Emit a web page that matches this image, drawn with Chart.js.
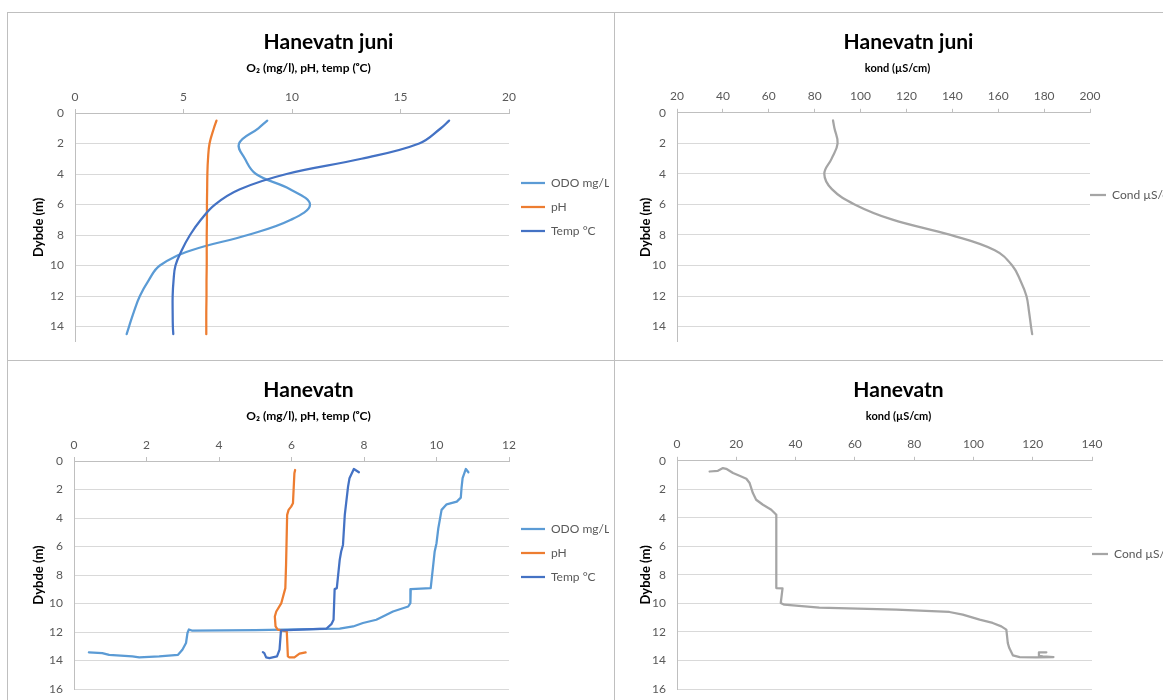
<!DOCTYPE html>
<html lang="no">
<head>
<meta charset="utf-8">
<title>Hanevatn profiler</title>
<script src="https://cdn.jsdelivr.net/npm/chart.js@4.4.1/dist/chart.umd.min.js"></script>
<style>
  html,body{margin:0;padding:0;background:#fff;}
  #stage{position:relative;width:1163px;height:700px;overflow:hidden;background:#fff;}
  .panel{position:absolute;border:1px solid #bfbfbf;box-sizing:border-box;}
  canvas{position:absolute;}
</style>
</head>
<body>
<div id="stage">
  <div class="panel" style="left:7px;top:12px;width:608px;height:349px"></div>
  <div class="panel" style="left:614px;top:12px;width:620px;height:349px"></div>
  <div class="panel" style="left:7px;top:360px;width:608px;height:360px"></div>
  <div class="panel" style="left:614px;top:360px;width:620px;height:360px"></div>
  <canvas id="tl" width="606" height="348" style="left:8px;top:12px"></canvas>
  <canvas id="tr" width="606" height="348" style="left:615px;top:12px"></canvas>
  <canvas id="bl" width="606" height="348" style="left:8px;top:360px"></canvas>
  <canvas id="br" width="606" height="348" style="left:615px;top:360px"></canvas>
</div>
<script>
// juni-profil (glattet linje)
const junDepth = [0.5, 1, 2, 3, 4, 5, 6, 7, 8, 9, 10, 11, 12, 13, 14, 14.5];
const junOdo   = [8.86, 8.45, 7.56, 7.83, 8.34, 9.91, 10.83, 9.95, 7.96, 5.37, 3.91, 3.38, 2.99, 2.72, 2.49, 2.38];
const junPh    = [6.52, 6.4, 6.2, 6.13, 6.1, 6.09, 6.08, 6.08, 6.07, 6.07, 6.07, 6.06, 6.06, 6.05, 6.05, 6.05];
const junTemp  = [17.24, 16.86, 15.86, 13.2, 9.75, 7.6, 6.45, 5.8, 5.3, 4.92, 4.63, 4.54, 4.5, 4.5, 4.51, 4.53];
const junCond  = [88.0, 88.6, 90.0, 87.4, 84.2, 87.5, 97.4, 113.9, 139.2, 158.5, 166.1, 169.7, 172.3, 173.4, 174.3, 174.8];

// sonde-profil
const odoDepth  = [0.79, 0.56, 1.21, 1.91, 2.57, 2.85, 3.04, 3.43, 4.72, 5.77, 6.35, 7.29, 8.92, 8.99, 9.97, 10.21, 10.56, 10.79, 11.14, 11.37, 11.61, 11.77, 11.86, 11.9, 11.82, 12.07, 12.77, 13.24, 13.6, 13.71, 13.78, 13.71, 13.6, 13.48, 13.43];
const odoVal    = [10.88, 10.81, 10.72, 10.69, 10.67, 10.56, 10.28, 10.14, 10.05, 10.0, 9.95, 9.91, 9.84, 9.29, 9.28, 9.22, 8.8, 8.62, 8.34, 7.97, 7.7, 7.33, 5.0, 3.25, 3.17, 3.13, 3.09, 2.99, 2.87, 2.35, 1.8, 1.61, 0.97, 0.78, 0.41];
const phDepth   = [0.63, 0.86, 2.97, 3.2, 3.43, 3.78, 7.29, 8.92, 9.97, 10.56, 10.91, 11.61, 11.84, 11.96, 13.71, 13.78, 13.78, 13.52, 13.43];
const phVal     = [6.10, 6.08, 6.04, 5.99, 5.92, 5.88, 5.85, 5.83, 5.72, 5.58, 5.54, 5.56, 5.62, 5.87, 5.9, 5.94, 6.08, 6.22, 6.39];
const tempDepth = [0.79, 0.56, 1.21, 1.8, 3.78, 5.89, 6.35, 6.94, 8.92, 8.99, 11.14, 11.45, 11.77, 11.89, 13.24, 13.71, 13.83, 13.78, 13.48, 13.41];
const tempVal   = [7.86, 7.72, 7.6, 7.56, 7.47, 7.42, 7.37, 7.33, 7.25, 7.19, 7.16, 7.1, 6.96, 5.71, 5.67, 5.6, 5.39, 5.3, 5.25, 5.21];
const condDepth = [0.75, 0.70, 0.51, 0.56, 0.86, 1.05, 1.26, 1.56, 2.26, 2.73, 3.08, 3.43, 3.78, 8.92, 8.95, 9.97, 10.09, 10.3, 10.44, 10.6, 10.79, 11.14, 11.37, 11.61, 11.84, 12.78, 13.13, 13.64, 13.76, 13.78, 13.76, 13.71, 13.67, 13.43, 13.43];
const condVal   = [11.0, 13.8, 15.5, 16.6, 18.9, 21.1, 23.4, 24.5, 25.6, 26.7, 29.0, 31.8, 33.5, 33.5, 35.6, 35.0, 36.2, 48.0, 74.0, 91.9, 96.4, 102.1, 106.5, 109.4, 111.1, 111.6, 112.1, 113.3, 115.6, 121.2, 127.0, 123.4, 122.1, 122.1, 124.6];

const O2_TITLE = "O\u2082 (mg/l), pH, temp (\u1D52C)";
const COND_TITLE = "kond (\u00B5S/cm)";
const COL = { odo:"#5B9BD5", ph:"#ED7D31", temp:"#4472C4", cond:"#A5A5A5" };
const FONT = 'Lato, "Open Sans", sans-serif';
Chart.defaults.font.family = FONT;

function pts(depth, vals){ return depth.map((d,i)=>({ x: vals[i], y: d })); }

function series(label, depth, vals, color, tension, order){
  return { label, data: pts(depth, vals), borderColor: color, backgroundColor: color,
    borderWidth: 2.25, showLine: true, pointRadius: 0, pointHoverRadius: 0,
    tension, order, borderJoinStyle: "round", borderCapStyle: "round" };
}

// nudges the chart title sideways (the Excel titles are not centred)
const titleShift = {
  id: "titleShift",
  afterLayout(chart, args, opts){
    const t = chart.titleBlock;
    if(t && opts.dx){ t.left += opts.dx; t.right += opts.dx; }
  }
};

function makeChart(id, o){
  return new Chart(document.getElementById(id), {
    type: "scatter",
    data: { datasets: o.datasets },
    plugins: [titleShift],
    options: {
      responsive: false, animation: false,
      layout: { padding: { left: 0, top: 0, right: o.padRight, bottom: o.padBottom } },
      scales: {
        x: { type: "linear", position: "top", min: o.xMin, max: o.xMax,
          ticks: { stepSize: o.xStep, padding: 5, color: "#595959", font: { size: 12 } },
          grid: { drawOnChartArea: false, tickLength: 4, color: "#bfbfbf" },
          border: { color: "#bfbfbf" } },
        y: { type: "linear", reverse: true, min: 0, max: o.yMax,
          ticks: { stepSize: 2, padding: 11, color: "#595959", font: { size: 12 } },
          afterBuildTicks: a => { a.ticks = a.ticks.filter(t => t.value % 2 === 0); },
          afterFit: a => { a.width = o.plotLeft; },
          grid: { color: "#d9d9d9", drawTicks: false },
          border: { color: "#bfbfbf" },
          title: { display: true, text: "Dybde (m)", color: "#000",
            font: { size: 13, weight: "bold" }, padding: { top: 23, bottom: 0 } } }
      },
      plugins: {
        title: { display: true, text: o.title, color: "#000",
          font: { size: 21, weight: "bold" }, padding: { top: 18, bottom: 0 } },
        subtitle: { display: true, text: o.subtitle, color: "#000",
          font: { size: o.subSize, weight: "bold" }, padding: { top: o.subSize === 12 ? 6 : 7, bottom: 9 } },
        legend: { position: "right", maxWidth: o.legendWidth,
          // empty legend title only pushes the entries down to where Excel puts them
          title: { display: true, text: "", padding: { top: o.legendDrop - 14.4, bottom: 0 } },
          labels: { usePointStyle: true, pointStyle: "line", pointStyleWidth: o.lineW,
            padding: o.legendPad, color: "#595959", font: { size: 12 },
            sort: (a,b) => a.datasetIndex - b.datasetIndex } },
        tooltip: { enabled: false },
        titleShift: { dx: o.titleDx }
      }
    }
  });
}

makeChart("tl", {
  title: "Hanevatn juni", subtitle: O2_TITLE, subSize: 12,
  xMin: 0, xMax: 20, xStep: 5, yMax: 15, plotLeft: 67,
  padRight: 5, padBottom: 18, legendWidth: 100, legendDrop: 60, legendPad: 12, lineW: 24, titleDx: 20,
  datasets: [
    series("ODO mg/L", junDepth, junOdo, COL.odo, 0.4, 2),
    series("pH", junDepth, junPh, COL.ph, 0.4, 1),
    series("Temp \u00B0C", junDepth, junTemp, COL.temp, 0.4, 0)
  ]
});

makeChart("tr", {
  title: "Hanevatn juni", subtitle: COND_TITLE, subSize: 11,
  xMin: 20, xMax: 200, xStep: 20, yMax: 15, plotLeft: 62,
  padRight: 41, padBottom: 18, legendWidth: 90, legendDrop: 36, legendPad: 0, lineW: 16, titleDx: 11,
  datasets: [ series("Cond \u00B5S/cm", junDepth, junCond, COL.cond, 0.4, 0) ]
});

makeChart("bl", {
  title: "Hanevatn", subtitle: O2_TITLE, subSize: 12,
  xMin: 0, xMax: 12, xStep: 2, yMax: 16, plotLeft: 66,
  padRight: 5, padBottom: 19, legendWidth: 100, legendDrop: 57, legendPad: 12, lineW: 24, titleDx: 0,
  datasets: [
    series("ODO mg/L", odoDepth, odoVal, COL.odo, 0, 2),
    series("pH", phDepth, phVal, COL.ph, 0, 1),
    series("Temp \u00B0C", tempDepth, tempVal, COL.temp, 0, 0)
  ]
});

makeChart("br", {
  title: "Hanevatn", subtitle: COND_TITLE, subSize: 11,
  xMin: 0, xMax: 140, xStep: 20, yMax: 16, plotLeft: 62,
  padRight: 39, padBottom: 19, legendWidth: 90, legendDrop: 59, legendPad: 0, lineW: 16, titleDx: 0,
  datasets: [ series("Cond \u00B5S/cm", condDepth, condVal, COL.cond, 0, 0) ]
});
</script>
</body>
</html>
